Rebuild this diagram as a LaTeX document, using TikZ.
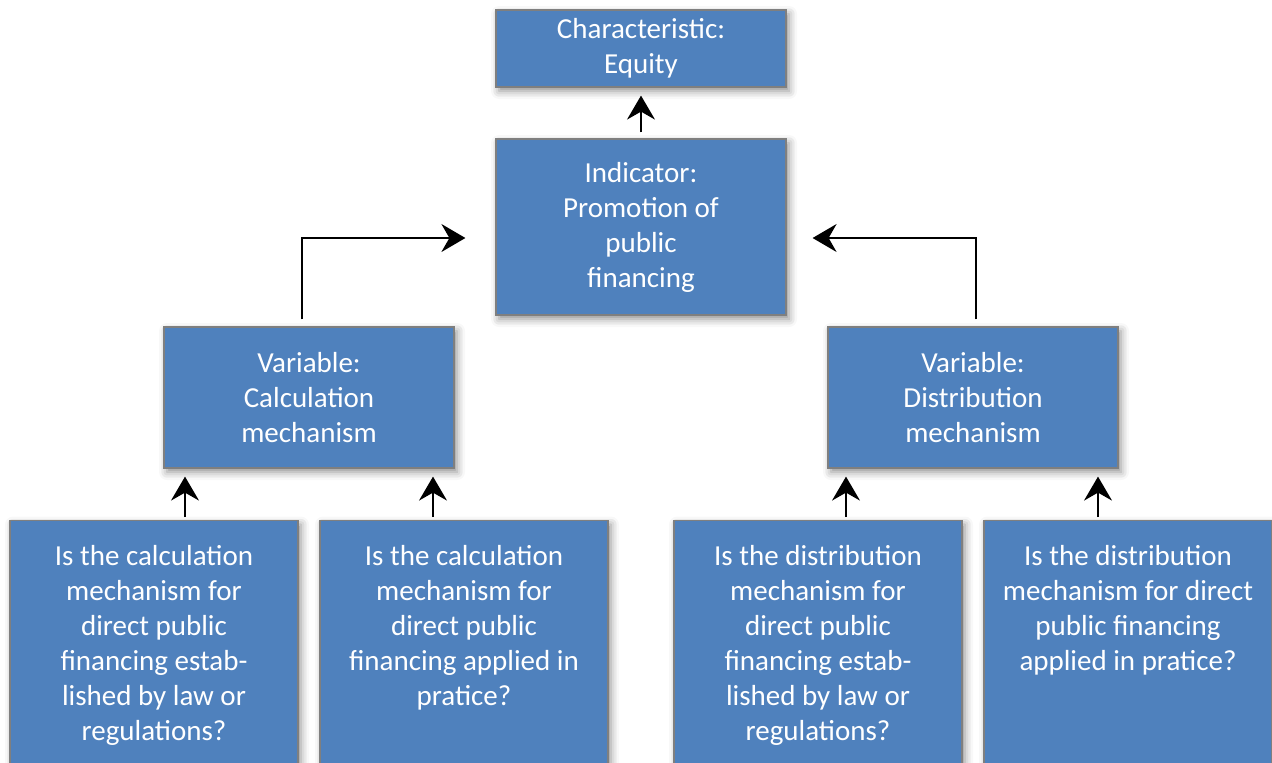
\documentclass[tikz,border=0pt]{standalone}
\usepackage{fontspec}
\setmainfont{Carlito}
\usetikzlibrary{arrows.meta,shadows.blur,positioning}
\definecolor{boxblue}{HTML}{4F81BD}
\definecolor{boxedge}{HTML}{7F7F7F}

\begin{document}
\begin{tikzpicture}[x=1pt, y=-1pt,
  box/.style={draw=boxedge, line width=1.2pt, fill=boxblue, text=white,
    align=center, minimum width=290pt, inner sep=0pt,
    font=\fontsize{29}{35}\selectfont,
    blur shadow={shadow xshift=3pt, shadow yshift=-4pt,
      shadow blur radius=8pt, shadow opacity=45}},
  qbox/.style={box, minimum width=288pt, anchor=north, inner ysep=25pt},
  arr/.style={line width=1.5pt, -{Stealth[length=24pt, width=28pt, inset=8pt]}}]
\useasboundingbox (0,0) rectangle (1272,763);

% top of the tree
\node[box, minimum height=77pt] (charac) at (641,48.5) {Characteristic:\\Equity};
\node[box, minimum height=176pt] (ind) at (641,227) {Indicator:\\Promotion of\\public\\financing};

% variables
\node[box, minimum height=141pt] (varc) at (309,397.5) {Variable:\\Calculation\\mechanism};
\node[box, minimum height=141pt] (vard) at (973,397.5) {Variable:\\Distribution\\mechanism};

% questions
\node[qbox] (q1) at (154,520) {\parbox[t][250pt][t]{270pt}{\centering
  Is the calculation\\mechanism for\\direct public\\financing estab-\\lished by law or\\regulations?}};
\node[qbox] (q2) at (464,520) {\parbox[t][250pt][t]{270pt}{\centering
  Is the calculation\\mechanism for\\direct public\\financing applied in\\pratice?}};
\node[qbox] (q3) at (818,520) {\parbox[t][250pt][t]{270pt}{\centering
  Is the distribution\\mechanism for\\direct public\\financing estab-\\lished by law or\\regulations?}};
\node[qbox] (q4) at (1128,520) {\parbox[t][250pt][t]{280pt}{\centering
  Is the distribution\\mechanism for direct\\public financing\\applied in pratice?}};

% connectors
\draw[arr, shorten <=6pt, shorten >=8pt] (ind.north) -- (charac.south);
\draw[arr, shorten <=7pt, shorten >=30pt] ([xshift=-7pt]varc.north) |- ([yshift=-11pt]ind.west);
\draw[arr, shorten <=7pt, shorten >=26pt] ([xshift=3pt]vard.north) |- ([yshift=-11pt]ind.east);
\draw[arr, shorten <=3pt, shorten >=8pt] ([xshift=31pt]q1.north) -- ([xshift=31pt]q1.north |- varc.south);
\draw[arr, shorten <=3pt, shorten >=8pt] ([xshift=-31pt]q2.north) -- ([xshift=-31pt]q2.north |- varc.south);
\draw[arr, shorten <=3pt, shorten >=8pt] ([xshift=28pt]q3.north) -- ([xshift=28pt]q3.north |- vard.south);
\draw[arr, shorten <=3pt, shorten >=8pt] ([xshift=-30pt]q4.north) -- ([xshift=-30pt]q4.north |- vard.south);
\end{tikzpicture}
\end{document}
